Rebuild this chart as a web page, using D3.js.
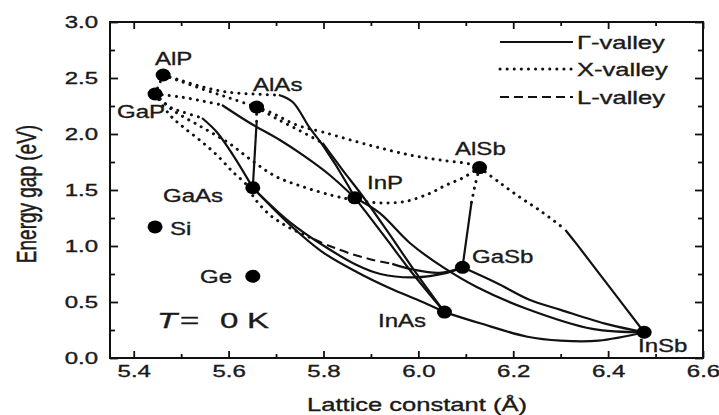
<!DOCTYPE html>
<html>
<head>
<meta charset="utf-8">
<script src="https://cdn.jsdelivr.net/npm/d3@7"></script>
<style>
  body { margin: 0; background: #fff; }
  svg { display: block; font-family: "Liberation Sans", Arial, sans-serif; }
  text { fill: #1a1a1a; stroke: #1a1a1a; stroke-width: 0.35px; }
</style>
</head>
<body>
<svg id="chart" width="719" height="415"></svg>
<script>
// binaries + the two elemental points
var compounds = ["AlP", "GaP", "AlAs", "GaAs", "InP", "AlSb", "GaSb", "InAs", "InSb", "Si", "Ge"];
var latticeA  = [5.462, 5.445, 5.659, 5.651, 5.866, 6.129, 6.093, 6.055, 6.476, 5.445, 5.651];
var gapE      = [2.527, 2.357, 2.240, 1.520, 1.430, 1.700, 0.810, 0.410, 0.230, 1.170, 0.730];

var xTicks = [5.4, 5.6, 5.8, 6.0, 6.2, 6.4, 6.6];
var xMinor = [5.5, 5.7, 5.9, 6.1, 6.3, 6.5];
var yTicks = [0, 0.5, 1.0, 1.5, 2.0, 2.5, 3.0];
var yMinor = [0.25, 0.75, 1.25, 1.75, 2.25, 2.75];

// ternary curves, [a (A), E (eV)]
// X-valley parts
var alGaP_X  = [[5.462, 2.527], [5.445, 2.357]];
var alInP_X  = [[5.462, 2.527], [5.497, 2.482], [5.546, 2.420], [5.596, 2.375], [5.651, 2.357], [5.706, 2.348]];
var alAsP_X  = [[5.462, 2.527], [5.539, 2.410], [5.603, 2.320], [5.659, 2.240]];
var gaInP_X  = [[5.445, 2.357], [5.500, 2.330], [5.550, 2.290], [5.586, 2.259]];
var gaAsP_X  = [[5.445, 2.357], [5.476, 2.241], [5.504, 2.196], [5.544, 2.143]];
var gaPSb_X  = [[5.445, 2.357], [5.476, 2.170], [5.504, 2.063], [5.539, 1.946], [5.575, 1.813], [5.609, 1.661],
                [5.638, 1.545], [5.650, 1.455], [5.666, 1.366], [5.687, 1.277], [5.708, 1.214], [5.729, 1.161], [5.780, 1.060]];
var alPSb_X  = [[5.445, 2.357], [5.480, 2.220], [5.540, 2.070], [5.600, 1.920], [5.650, 1.760], [5.700, 1.620],
                [5.756, 1.530], [5.820, 1.450], [5.866, 1.410], [5.920, 1.385], [5.975, 1.400], [6.024, 1.470],
                [6.059, 1.545], [6.093, 1.607], [6.129, 1.700]];
var alAsSb_X = [[5.659, 2.240], [5.687, 2.196], [5.744, 2.080], [5.798, 2.018], [5.897, 1.900], [5.982, 1.813],
                [6.045, 1.768], [6.108, 1.732], [6.129, 1.700]];
var alInAs_X = [[5.659, 2.240], [5.700, 2.140], [5.750, 2.030], [5.798, 1.920]];
var alGaAs_X = [[5.659, 2.240], [5.659, 2.100]];
var alGaSb_X = [[6.129, 1.700], [6.120, 1.550], [6.112, 1.390]];
var alInSb_X = [[6.129, 1.700], [6.170, 1.570], [6.213, 1.438], [6.255, 1.320], [6.297, 1.188], [6.310, 1.143]];

// L-valley part
var gaPSb_L  = [[5.780, 1.060], [5.813, 1.000], [5.855, 0.935], [5.900, 0.880], [5.945, 0.840]];

// Gamma-valley parts
var gaPSb_G  = [[5.945, 0.840], [5.988, 0.790], [6.045, 0.760], [6.093, 0.810]];
var alInP_G  = [[5.706, 2.348], [5.735, 2.286], [5.771, 2.054], [5.798, 1.902], [5.855, 1.518], [5.866, 1.430]];
var gaInP_G  = [[5.586, 2.259], [5.645, 2.098], [5.708, 1.946], [5.756, 1.813], [5.813, 1.634], [5.866, 1.430]];
var gaAsP_G  = [[5.544, 2.143], [5.575, 2.018], [5.609, 1.813], [5.651, 1.520]];
var alGaAs_G = [[5.659, 2.100], [5.651, 1.520]];
var alGaSb_G = [[6.112, 1.390], [6.093, 0.810]];
var alInAs_G = [[5.798, 1.920], [5.840, 1.680], [5.880, 1.460], [5.935, 1.130], [5.995, 0.760], [6.055, 0.410]];
var inAsP_G  = [[5.866, 1.430], [5.890, 1.300], [5.935, 1.050], [5.985, 0.770], [6.055, 0.410]];
var inPSb_G  = [[5.866, 1.430], [5.918, 1.295], [5.982, 1.027], [6.051, 0.813], [6.123, 0.634], [6.228, 0.440],
                [6.367, 0.260], [6.476, 0.230]];
var gaInAs_G = [[5.651, 1.520], [5.729, 1.190], [5.798, 0.946], [5.870, 0.768], [5.939, 0.625], [6.009, 0.500], [6.055, 0.410]];
var gaAsSb_G = [[5.651, 1.520], [5.729, 1.214], [5.798, 1.009], [5.870, 0.830], [5.920, 0.750], [5.990, 0.720],
                [6.060, 0.760], [6.093, 0.810]];
var inAsSb_G = [[6.055, 0.410], [6.130, 0.310], [6.230, 0.190], [6.300, 0.155], [6.380, 0.155], [6.476, 0.230]];
var gaInSb_G = [[6.093, 0.810], [6.165, 0.670], [6.234, 0.520], [6.300, 0.430], [6.400, 0.300], [6.476, 0.230]];
var alInSb_G = [[6.310, 1.143], [6.335, 1.010], [6.400, 0.650], [6.476, 0.230]];

var gammaCurves = [alInP_G, gaInP_G, gaAsP_G, alGaAs_G, alGaSb_G, alInAs_G, inAsP_G, inPSb_G,
                   gaInAs_G, gaAsSb_G, inAsSb_G, gaInSb_G, alInSb_G, gaPSb_G];
var xCurves = [alGaP_X, alInP_X, alAsP_X, gaInP_X, gaAsP_X, gaPSb_X, alPSb_X, alAsSb_X, alInAs_X,
               alGaAs_X, alGaSb_X, alInSb_X];
var lCurves = [gaPSb_L];

var legendNames = ["\u0393-valley", "X-valley", "L-valley"];

var svg = d3.select("#chart");
var W = 719, H = 415;
var m = {left: 110, right: 703, top: 22, bottom: 358};

svg.append("rect").attr("width", W).attr("height", H).attr("fill", "#fff");

var x = d3.scaleLinear().domain([5.35, 6.6]).range([m.left, m.right]);
var y = d3.scaleLinear().domain([0, 3]).range([m.bottom, m.top]);

var styles = {
  G: {dash: null, width: 2.2, cap: "butt"},
  X: {dash: "0.1,7", width: 3, cap: "round"},
  L: {dash: "9,5", width: 2.1, cap: "butt"}
};

var line = d3.line()
  .x(function(d) { return x(d[0]); })
  .y(function(d) { return y(d[1]); })
  .curve(d3.curveCatmullRom.alpha(0.5));

function drawCurves(list, st) {
  svg.append("g").selectAll("path").data(list).join("path")
    .attr("d", line)
    .attr("fill", "none")
    .attr("stroke", "#111")
    .attr("stroke-width", st.width)
    .attr("stroke-linecap", st.cap)
    .attr("stroke-linejoin", "round")
    .attr("stroke-dasharray", st.dash);
}

drawCurves(xCurves, styles.X);
drawCurves(lCurves, styles.L);
drawCurves(gammaCurves, styles.G);

// axes: ticks point inwards on all four sides
function axisGroup(axis, tx, ty) {
  return svg.append("g").attr("transform", "translate(" + tx + "," + ty + ")").call(axis);
}
var fmt = d3.format(".1f");

var gx = axisGroup(d3.axisBottom(x).tickValues(xTicks).tickSize(-7).tickPadding(8).tickFormat(fmt), 0, m.bottom);
axisGroup(d3.axisBottom(x).tickValues(xMinor).tickSize(-4).tickFormat(""), 0, m.bottom);
axisGroup(d3.axisTop(x).tickValues(xTicks).tickSize(-7).tickFormat(""), 0, m.top);
axisGroup(d3.axisTop(x).tickValues(xMinor).tickSize(-4).tickFormat(""), 0, m.top);
var gy = axisGroup(d3.axisLeft(y).tickValues(yTicks).tickSize(-8).tickPadding(12).tickFormat(fmt), m.left, 0);
axisGroup(d3.axisLeft(y).tickValues(yMinor).tickSize(-5).tickFormat(""), m.left, 0);
axisGroup(d3.axisRight(y).tickValues(yTicks).tickSize(-8).tickFormat(""), m.right, 0);
axisGroup(d3.axisRight(y).tickValues(yMinor).tickSize(-5).tickFormat(""), m.right, 0);

svg.selectAll(".domain").remove();
svg.selectAll(".tick line").attr("stroke", "#111").attr("stroke-width", 1.8);

// the figure's lettering is wide, so stretch it horizontally
gx.selectAll("text").attr("font-size", 16).attr("font-family", null).attr("fill", "#1a1a1a")
  .attr("transform", "scale(1.5,1)");
gy.selectAll("text").attr("font-size", 16).attr("font-family", null).attr("fill", "#1a1a1a")
  .attr("x", -12 / 1.5).attr("transform", "scale(1.5,1)");

svg.append("rect")
  .attr("x", m.left).attr("y", m.top)
  .attr("width", m.right - m.left).attr("height", m.bottom - m.top)
  .attr("fill", "none").attr("stroke", "#111").attr("stroke-width", 2);

// points
svg.append("g").selectAll("ellipse").data(compounds).join("ellipse")
  .attr("cx", function(d, i) { return x(latticeA[i]); })
  .attr("cy", function(d, i) { return y(gapE[i]); })
  .attr("rx", 7.5).attr("ry", 6.5)
  .attr("fill", "#000");

function wideText(txt, tx, ty, size, sx, anchor) {
  return svg.append("text")
    .attr("transform", "translate(" + tx + "," + ty + ") scale(" + sx + ",1)")
    .attr("font-size", size)
    .attr("text-anchor", anchor || "start")
    .text(txt);
}

var labelPos = {
  AlP: [155, 65], GaP: [117, 118], AlAs: [253, 91], GaAs: [163, 202], InP: [367, 189],
  AlSb: [455, 155], GaSb: [472, 263], InAs: [378, 327], InSb: [638, 352], Si: [170, 235], Ge: [200, 283]
};
compounds.forEach(function(c) {
  var p = labelPos[c];
  wideText(c, p[0], p[1], 18.5, 1.3);
});

// T = 0 K
wideText("T", 157, 328, 22, 1.5).attr("font-style", "italic");
wideText("=", 180, 328, 22, 1.5);
wideText("0", 220, 328, 22, 1.5);
wideText("K", 247, 328, 22, 1.5);

// legend
var legendY = [42, 69, 97];
var legendStyle = [styles.G, styles.X, styles.L];
legendNames.forEach(function(name, i) {
  var st = legendStyle[i];
  svg.append("line")
    .attr("x1", 500).attr("x2", 573).attr("y1", legendY[i]).attr("y2", legendY[i])
    .attr("stroke", "#111").attr("stroke-width", st.width)
    .attr("stroke-linecap", st.cap).attr("stroke-dasharray", st.dash);
  wideText(name, 577, legendY[i] + 7, 18.5, 1.38);
});

// axis titles
wideText("Lattice constant (\u00C5)", 417, 411, 18.5, 1.38, "middle");
svg.append("text")
  .attr("transform", "translate(36,194) scale(1.45,1) rotate(-90)")
  .attr("font-size", 19)
  .attr("text-anchor", "middle")
  .text("Energy gap (eV)");
</script>
</body>
</html>
